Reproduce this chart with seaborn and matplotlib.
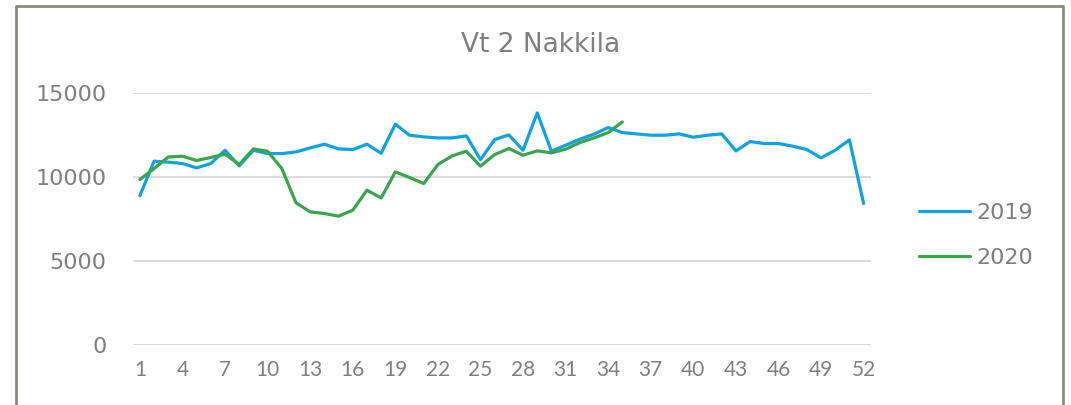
import numpy as np
import pandas as pd
import matplotlib
matplotlib.use("Agg")
import matplotlib.pyplot as plt
import seaborn as sns

# Weekly traffic volumes, Vt 2 Nakkila
weeks_2019 = list(range(1, 53))
volume_2019 = [8900, 10950, 10890, 10810, 10550, 10810, 11600, 10670, 11600, 11400,
               11400, 11500, 11740, 11960, 11680, 11640, 11960, 11420, 13150, 12495,
               12395, 12335, 12335, 12455, 11045, 12237, 12515, 11600, 13825, 11545,
               11900, 12257, 12555, 12950, 12654, 12574, 12495, 12495, 12574, 12376,
               12495, 12574, 11563, 12118, 11999, 11999, 11840, 11642, 11147, 11603,
               12217, 8429]
weeks_2020 = list(range(1, 36))
volume_2020 = [9860, 10510, 11200, 11245, 10990, 11170, 11365, 10750, 11680, 11540,
               10510, 8470, 7930, 7835, 7675, 8030, 9220, 8760, 10313, 9977,
               9620, 10750, 11265, 11543, 10650, 11345, 11700, 11305, 11563, 11444,
               11662, 12060, 12335, 12654, 13288]
series_names = ["2019", "2020"]
title_text = "Vt 2 Nakkila"
y_ticks = [0, 5000, 10000, 15000]
x_tick_weeks = list(range(1, 53, 3))

df = pd.concat([
    pd.DataFrame({"week": weeks_2019, "volume": volume_2019, "year": series_names[0]}),
    pd.DataFrame({"week": weeks_2020, "volume": volume_2020, "year": series_names[1]}),
])

sns.set_theme(style="white")
plt.rcParams["font.family"] = ["DejaVu Sans"]
text_color = "#7f7f7f"

fig = plt.figure(figsize=(10.71, 4.05), dpi=100)
ax = fig.add_axes([0.124, 0.148, 0.689, 0.622])

palette = {"2019": "#0fa3e6", "2020": "#3aa64c"}
sns.lineplot(data=df, x="week", y="volume", hue="year", palette=palette,
             linewidth=2.3, ax=ax, legend=True, sort=True)

ax.set_xlim(0.5, 52.5)
ax.set_ylim(0, 15000)
ax.set_yticks(y_ticks)
ax.set_yticklabels([str(v) for v in y_ticks], fontsize=16, color=text_color)
ax.set_xticks(x_tick_weeks)
ax.set_xticklabels([str(v) for v in x_tick_weeks], fontsize=15, color=text_color,
                   family=["Lato", "DejaVu Sans"])
ax.tick_params(axis="both", length=0)
ax.tick_params(axis="y", pad=19)
ax.tick_params(axis="x", pad=11)
ax.grid(axis="y", color="#d9d9d9", linewidth=1.3)
ax.set_axisbelow(True)
for s in ax.spines.values():
    s.set_visible(False)
ax.set_xlabel("")
ax.set_ylabel("")

fig.text(0.505, 0.889, title_text, ha="center", va="center", fontsize=19, color=text_color)

leg = ax.legend(loc="center left", bbox_to_anchor=(1.065, 0.435), frameon=False,
                fontsize=16, handlelength=2.3, handletextpad=0.3, labelspacing=1.15,
                borderaxespad=0, borderpad=0)
for t in leg.get_texts():
    t.set_color(text_color)
for h in leg.get_lines():
    h.set_linewidth(2.3)

# Chart frame
frame_color = "#8a8c7c"
fig.add_artist(plt.Line2D([0.0148, 0.0148, 0.9925, 0.9925], [0.0, 0.985, 0.985, 0.0],
                          transform=fig.transFigure, color=frame_color, linewidth=2.0))

fig.savefig("out.png", dpi=100, facecolor="white")
